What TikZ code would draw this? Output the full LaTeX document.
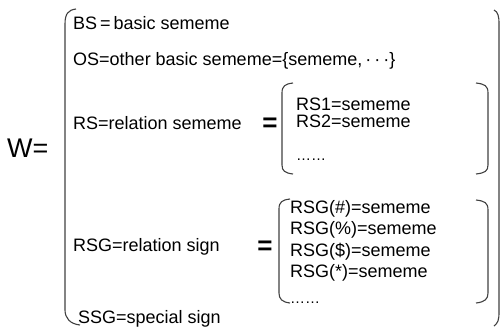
\documentclass[tikz,border=0pt]{standalone}
\usepackage{fontspec}
\setmainfont{Liberation Sans}
\usepackage{tikz}

\begin{document}
\begin{tikzpicture}[x=1pt,y=-1pt,
    txt/.style={anchor=base west,inner sep=0pt,font=\fontsize{18}{20}\selectfont},
    bigeq/.style={inner sep=0pt,font=\fontsize{26}{28}\selectfont\bfseries},
    brack/.style={draw=black!75,line width=1.1pt}]
    \useasboundingbox (0,0) rectangle (501,330);
    \node[anchor=west,inner sep=0pt,font=\fontsize{27}{30}\selectfont] (w) at (7,148) {W=};
    \node[txt] (bs) at (73,29) {BS\,=\,basic sememe};
    \node[txt] (os) at (73,65) {OS=other basic sememe=\{sememe,\,\textperiodcentered\,\textperiodcentered\,\textperiodcentered\}};
    \node[txt] (rs) at (73,129) {RS=relation sememe};
    \node[bigeq] (eqa) at (270,125) {=};
    \node[txt] (rsa) at (296,110.5) {RS1=sememe};
    \node[txt] (rsb) at (296,127) {RS2=sememe};
    \node[txt,font=\fontsize{15}{17}\selectfont] (rsc) at (296,160) {……};
    \node[txt] (rsg) at (73,251) {RSG=relation sign};
    \node[bigeq] (eqb) at (265,248) {=};
    \node[txt] (rga) at (290,213) {RSG(\#)=sememe};
    \node[txt] (rgb) at (290,234.5) {RSG(\%)=sememe};
    \node[txt] (rgc) at (290,256) {RSG(\$)=sememe};
    \node[txt] (rgd) at (290,277.5) {RSG(*)=sememe};
    \node[txt,font=\fontsize{15}{17}\selectfont] (rge) at (290,303) {……};
    \node[txt] (ssg) at (78,323) {SSG=special sign};
    \draw[brack] (76,9) .. controls (68,10) and (65,14) .. (65,24) -- (65,310) .. controls (65,318) and (70,324) .. (80,325);
    \draw[brack] (494,10) .. controls (498,12) and (499,16) .. (499,24) -- (499,312) .. controls (499,320) and (498,323) .. (494,326);
    \draw[brack] (293,83) .. controls (285,84) and (282,86) .. (282,93) -- (282,165) .. controls (282,171) and (285,173) .. (293,174);
    \draw[brack] (476,83) .. controls (485,84) and (488,86) .. (488,93) -- (488,165) .. controls (488,171) and (485,173) .. (476,174);
    \draw[brack] (290,199) .. controls (282,200) and (279,202) .. (279,209) -- (279,293) .. controls (279,299) and (282,302) .. (290,303);
    \draw[brack] (476,200) .. controls (485,201) and (488,203) .. (488,210) -- (488,293) .. controls (488,299) and (485,302) .. (476,303);
\end{tikzpicture}
\end{document}
